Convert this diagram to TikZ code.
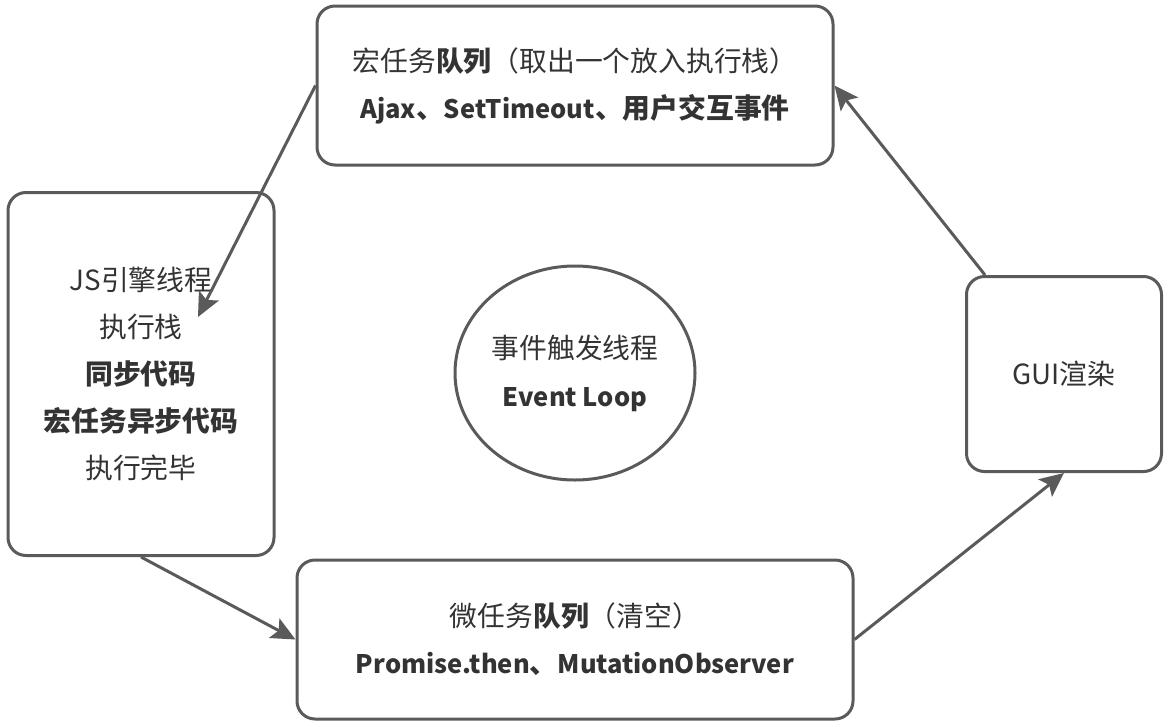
\documentclass[tikz,border=0pt]{standalone}
\usepackage{fontspec}
\setmainfont{Noto Sans CJK SC}
\usetikzlibrary{arrows.meta,shapes.geometric}
\definecolor{edge}{HTML}{5A5A5A}
\definecolor{ink}{HTML}{333333}
\newcommand{\lat}[1]{{\fontsize{25.5}{47}\selectfont #1}}
\tikzset{
  box/.style={draw=edge, line width=3pt, rounded corners=18pt, align=center, text=ink,
    font=\fontsize{27.8}{47}\selectfont, inner sep=0pt},
  conn/.style={draw=edge, line width=3pt, -{Stealth[length=24pt,width=22pt,inset=5pt]}},
}
\begin{document}
\begin{tikzpicture}[x=1pt,y=-1pt]
\useasboundingbox (0,0) rectangle (1173,726);
\node[box, minimum width=516pt, minimum height=159pt] (top) at (575,85.5)
  {宏任务\textbf{队列}（取出一个放入执行栈）\\ \textbf{\lat{Ajax}、\lat{SetTimeout}、用户交互事件}};
\node[box, minimum width=266pt, minimum height=363pt] (left) at (141,374)
  {JS引擎线程\\执行栈\\ \textbf{同步代码}\\ \textbf{宏任务异步代码}\\执行完毕};
\node[box, minimum width=195pt, minimum height=195pt] (right) at (1064,374)
  {GUI渲染};
\node[box, minimum width=556pt, minimum height=159pt] (bot) at (575,639.5)
  {微任务\textbf{队列}（清空）\\ \textbf{\lat{Promise.then}、\lat{MutationObserver}}};
\node[draw=edge, line width=3pt, ellipse, minimum width=240pt, minimum height=214pt,
  inner sep=0pt, align=center, text=ink, font=\fontsize{27.8}{48}\selectfont] (loop) at (575,373)
  {事件触发线程\\ \textbf{\lat{Event Loop}}};
\coordinate (stk) at (198,317);
\coordinate (gui) at (985,275);
\draw[conn] (top.west) -- (stk);
\draw[conn] (left.south) -- (bot.west);
\draw[conn] (bot.east) -- (right.south);
\draw[conn] (gui) -- (top.east);
\end{tikzpicture}
\end{document}
